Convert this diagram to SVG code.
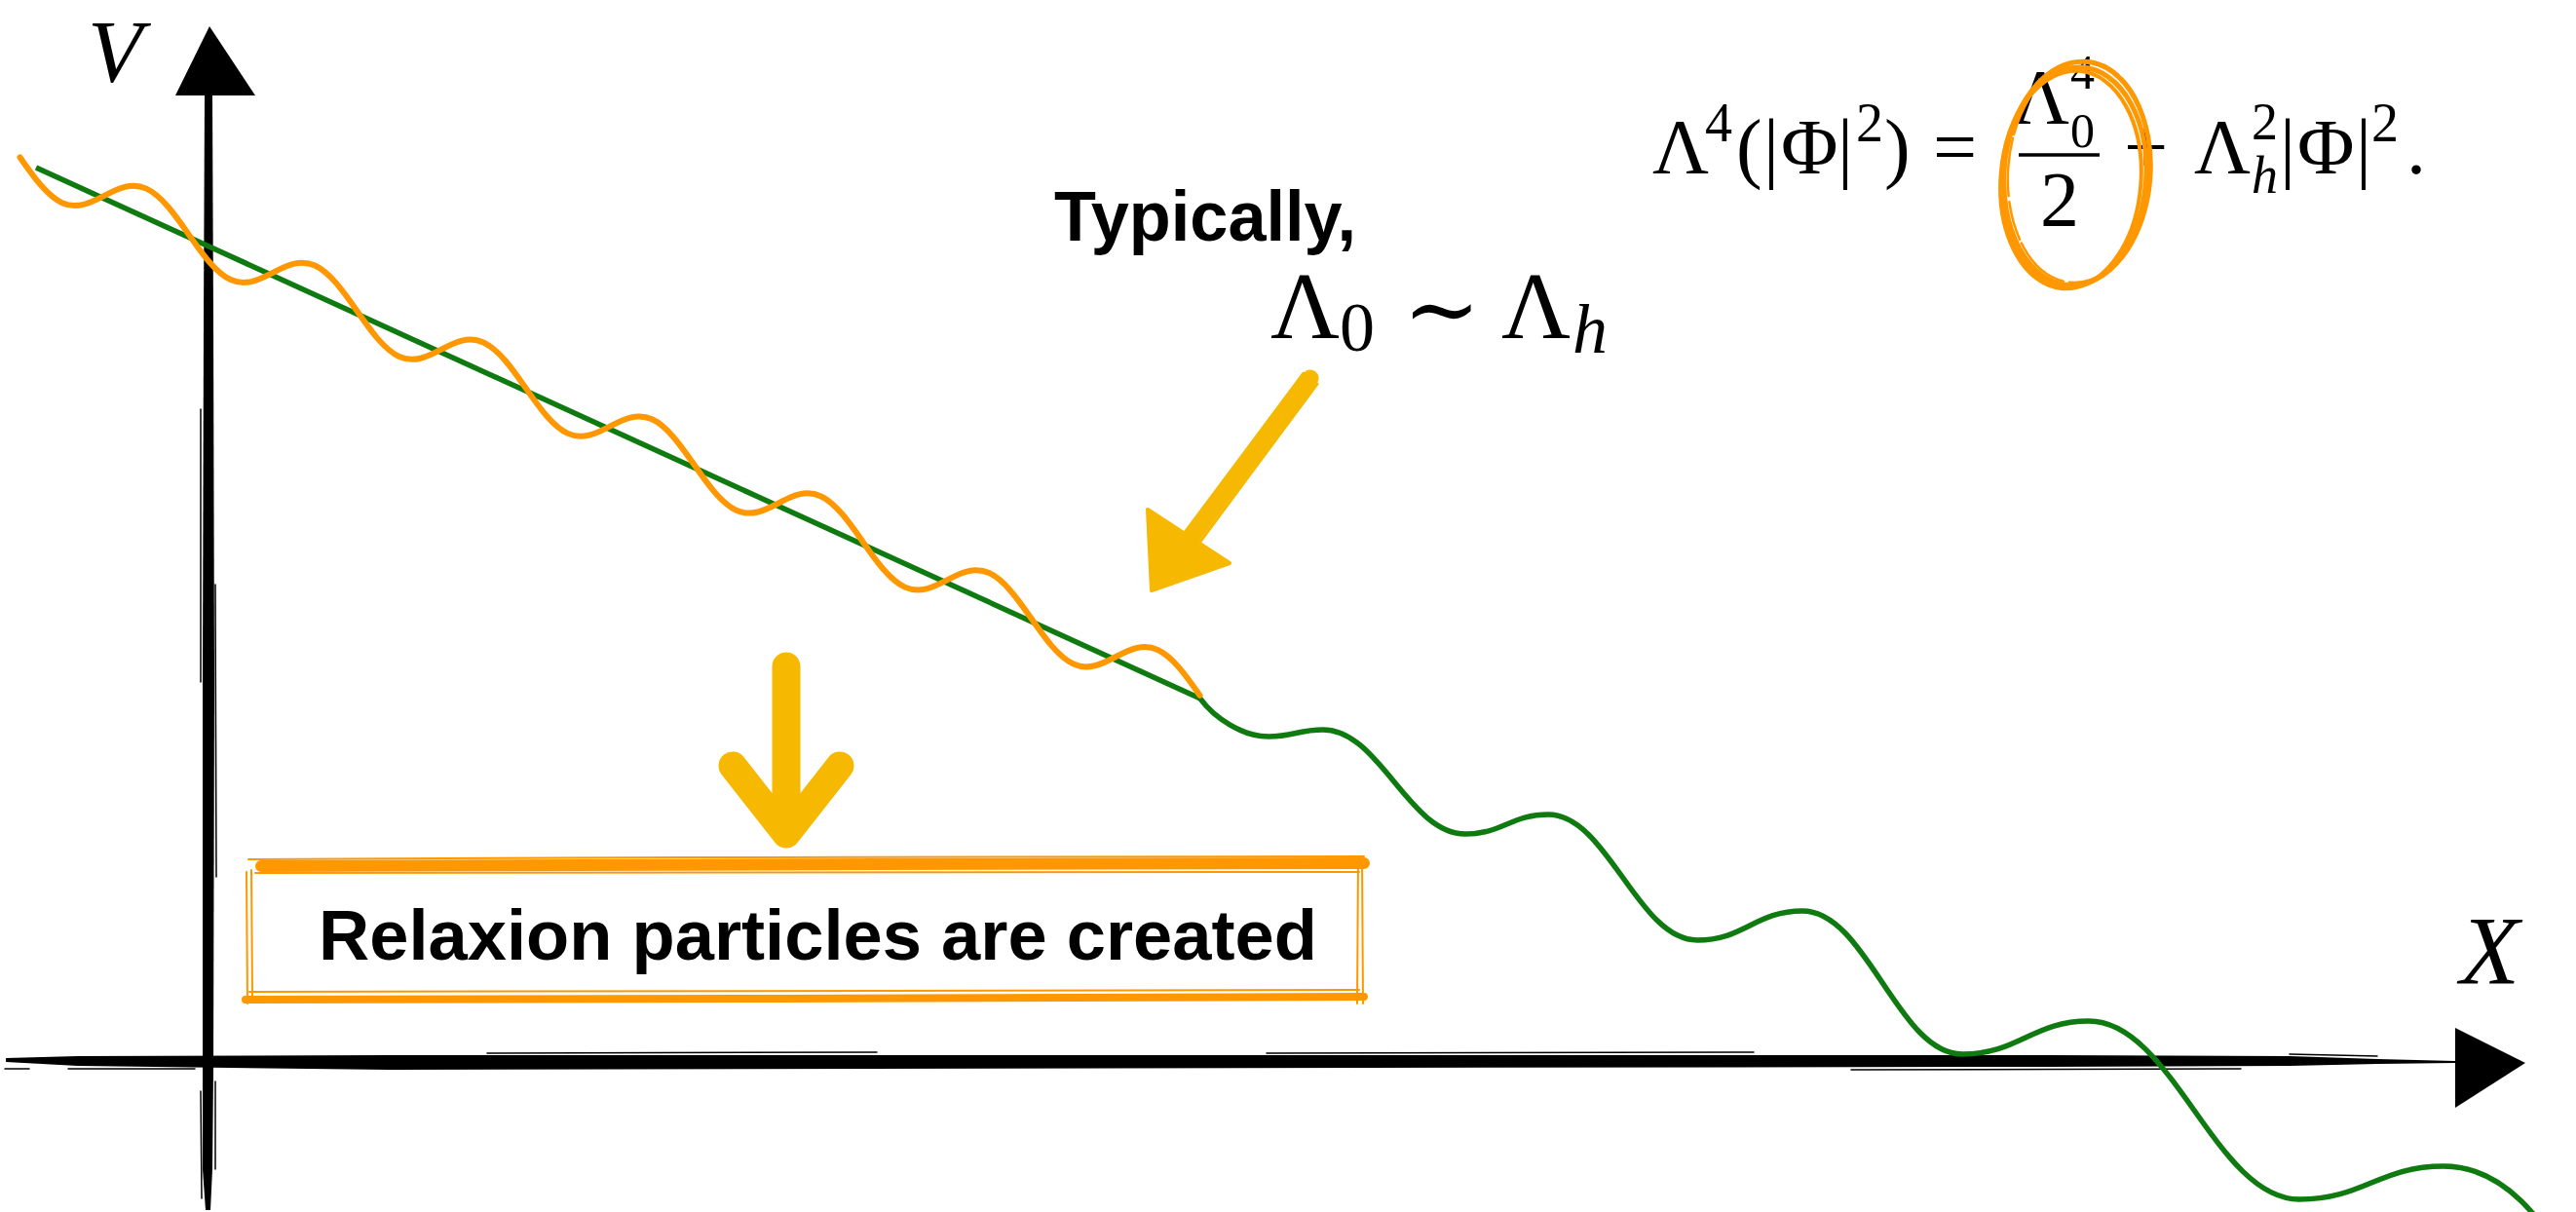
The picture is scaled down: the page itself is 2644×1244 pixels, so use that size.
<svg xmlns="http://www.w3.org/2000/svg" width="2644" height="1244" viewBox="0 0 2644 1244">
<style>
.serif{font-family:"Liberation Serif","DejaVu Serif",serif;fill:#000}
.it{font-style:italic}
.sans{font-family:"Liberation Sans",Arial,sans-serif;font-weight:bold;fill:#000}
.ink{fill:#000}
.streak{stroke:#000;fill:none;stroke-linecap:round}
.orng{stroke:#ff9800;fill:none;stroke-linecap:round}
.yel{stroke:#f6b800;fill:none;stroke-linecap:round;stroke-linejoin:round}
</style>
<rect width="2644" height="1244" fill="#fff"/>

<g id="axes">
  <g id="y-axis">
    <path class="ink" d="M210,98 L218,98 L219,330 L220,700 L219,1100 L218,1200 L216,1242 L211,1242 L208,1200 L208,1100 L208,700 L209,330 Z"/>
    <path class="streak" stroke-width="1.5" d="M206,420 L206,700 M221,600 L222,900 M206,1120 L207,1230 M221,1110 L221,1200"/>
    <polygon class="ink" points="215,27 180,98 262,98"/>
  </g>
  <g id="x-axis">
    <path class="ink" d="M6,1086 L80,1084 L400,1083 L1400,1083 L2100,1083 L2350,1084 L2440,1087 L2520,1089 L2520,1091 L2440,1092 L2350,1094 L2100,1095 L1400,1096 L400,1098 L80,1094 L6,1090 Z"/>
    <path class="streak" stroke-width="1.5" d="M5,1097 L30,1097 M70,1097 L200,1097 M500,1081 L900,1080 M1300,1081 L1800,1080 M1900,1098 L2300,1097 M2350,1082 L2440,1084"/>
    <polygon class="ink" points="2520,1055 2592,1091 2520,1137"/>
  </g>
  <text class="serif it" x="90" y="84" font-size="92">V</text>
  <text class="serif it" x="2525" y="1009" font-size="100">X</text>
</g>

<g id="connectors">
  <path id="green-line" d="M37,172 L1231.5,716.7" stroke="#0f7a0f" stroke-width="5.5" fill="none"/>
  <path id="green-wave" d="M1231.5,716.7 C1246.5,737 1275,756 1302,756 C1327,756 1333,749 1358,749 C1416,749 1446,856 1504,856 C1542,856 1551,836 1589,836 C1650,836 1681,965 1742,965 C1790,965 1802,935 1850,935 C1916,935 1948,1082 2014,1082 C2072,1082 2086,1048 2144,1048 C2230,1048 2274,1231 2360,1231 C2426,1231 2442,1197 2508,1197 C2570,1197 2610,1250 2650,1320" stroke="#0f7a0f" stroke-width="5.5" fill="none"/>
  <path id="orange-wave" transform="matrix(1,0.456,0,1,0,152.13)" vector-effect="non-scaling-stroke" stroke="#ff9800" stroke-width="6" fill="none" stroke-linecap="round"
   d="M20.5,0 c14.10,13.83 28.01,27 43.25,27
   s29.15,-13.17 43.25,-27 s28.01,-27 43.25,-27 s29.15,13.17 43.25,27 s28.01,27 43.25,27
   s29.15,-13.17 43.25,-27 s28.01,-27 43.25,-27 s29.15,13.17 43.25,27 s28.01,27 43.25,27
   s29.15,-13.17 43.25,-27 s28.01,-27 43.25,-27 s29.15,13.17 43.25,27 s28.01,27 43.25,27
   s29.15,-13.17 43.25,-27 s28.01,-27 43.25,-27 s29.15,13.17 43.25,27 s28.01,27 43.25,27
   s29.15,-13.17 43.25,-27 s28.01,-27 43.25,-27 s29.15,13.17 43.25,27 s28.01,27 43.25,27
   s29.15,-13.17 43.25,-27 s28.01,-27 43.25,-27 s29.15,13.17 43.25,27 s28.01,27 43.25,27
   s29.15,-13.17 43.25,-27 s28.01,-27 43.25,-27 s29.15,13.17 43.25,27"/>
  <g id="pointer-arrow">
    <path class="yel" stroke-width="17" d="M1345,388 L1212,566"/>
    <path class="yel" stroke-width="3" d="M1338,383 L1206,560 M1352,394 L1220,572"/>
    <polygon points="1178,523 1262,578 1182,606" fill="#f6b800" stroke="#f6b800" stroke-width="4" stroke-linejoin="round"/>
  </g>
  <g id="down-arrow">
    <path class="yel" stroke-width="29" d="M807,684 L807,848"/>
    <path class="yel" stroke-width="29" d="M752,786 L807,856 L862,786"/>
  </g>
</g>

<g id="equation">
  <text class="serif" x="1696" y="178" font-size="80">Λ</text>
  <text class="serif" x="1750" y="145" font-size="56">4</text>
  <text class="serif" x="1782" y="178" font-size="80">(</text>
  <text class="serif" x="1810" y="178" font-size="80">|</text>
  <text class="serif" x="1828" y="178" font-size="80">Φ</text>
  <text class="serif" x="1886" y="178" font-size="80">|</text>
  <text class="serif" x="1905" y="145" font-size="56">2</text>
  <text class="serif" x="1934" y="178" font-size="80">)</text>
  <text class="serif" x="1984" y="178" font-size="80">=</text>
  <text class="serif" x="2066" y="127" font-size="80">Λ</text>
  <text class="serif" x="2125" y="151" font-size="50">0</text>
  <text class="serif" x="2125" y="91" font-size="50">4</text>
  <line x1="2072" y1="159" x2="2155" y2="159" stroke="#000" stroke-width="3.5"/>
  <text class="serif" x="2094" y="232" font-size="80">2</text>
  <text class="serif" x="2180" y="178" font-size="80">+</text>
  <text class="serif" x="2252" y="178" font-size="80">Λ</text>
  <text class="serif it" x="2311" y="198" font-size="54">h</text>
  <text class="serif" x="2311" y="143" font-size="54">2</text>
  <text class="serif" x="2340" y="178" font-size="80">|</text>
  <text class="serif" x="2358" y="178" font-size="80">Φ</text>
  <text class="serif" x="2418" y="178" font-size="80">|</text>
  <text class="serif" x="2434" y="145" font-size="56">2</text>
  <text class="serif" x="2470" y="178" font-size="80">.</text>
  <g id="circle-mark" transform="rotate(4.5 2132 178)">
    <ellipse class="orng" cx="2132" cy="178" rx="75" ry="115" stroke-width="5"/>
    <ellipse class="orng" cx="2129" cy="182" rx="74" ry="113" stroke-width="5"/>
    <ellipse class="orng" cx="2126" cy="185" rx="72" ry="112" stroke-width="4"/>
    <ellipse class="orng" cx="2134" cy="176" rx="73" ry="114" stroke-width="2.5" stroke-dasharray="40 6 60 4"/>
  </g>
</g>

<g id="typically-note">
  <text class="sans" x="1082" y="247" font-size="72" textLength="310" lengthAdjust="spacingAndGlyphs">Typically,</text>
  <text class="serif" x="1304" y="347" font-size="98">Λ</text>
  <text class="serif" x="1375" y="360" font-size="72">0</text>
  <text x="1440" y="350" font-size="95" font-family="DejaVu Serif, serif">∼</text>
  <text class="serif" x="1541" y="347" font-size="98">Λ</text>
  <text class="serif it" x="1614" y="362" font-size="72">h</text>
</g>

<g id="relaxion-box">
  <path class="orng" stroke-width="12" d="M268,889 L900,887 L1400,886"/>
  <path class="orng" stroke-width="2" d="M255,882 L700,880 L1400,879 M262,896 L1395,895 M253,895 L254,1030 M258,893 L259,1022 M1394,882 L1393,1030 M1398,880 L1399,1030"/>
  <path class="orng" stroke-width="8" d="M252,1026 L800,1025 L1400,1023"/>
  <path class="orng" stroke-width="2" d="M256,1018 L900,1017 L1395,1016"/>
  <text class="sans" x="327" y="985" font-size="72" textLength="1025" lengthAdjust="spacingAndGlyphs">Relaxion particles are created</text>
</g>
</svg>
